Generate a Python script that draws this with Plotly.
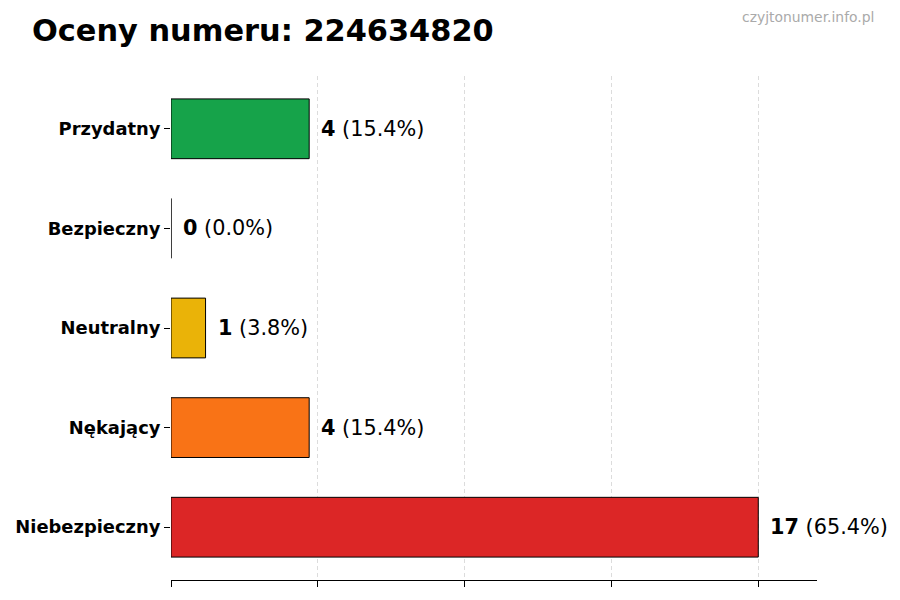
import plotly.graph_objects as go

# ratings for the number, top to bottom as drawn
categories = ['Przydatny', 'Bezpieczny', 'Neutralny', 'Nękający', 'Niebezpieczny']
counts = [4, 0, 1, 4, 17]
colors = ['#16a34a', '#3b82f6', '#eab308', '#f97316', '#dc2626']
phone = '224634820'

total = sum(counts)
max_count = max(counts)

fig = go.Figure(go.Bar(
    x=counts,
    y=categories,
    orientation='h',
    width=0.6,
    marker=dict(color=colors, line=dict(color='black', width=1)),
    hoverinfo='skip',
))

# value labels to the right of each bar
for cat, n in zip(categories, counts):
    pct = n / total * 100 if total else 0
    fig.add_annotation(
        x=n, y=cat, xref='x', yref='y',
        text='<b>%d</b> (%.1f%%)' % (n, pct),
        showarrow=False, xanchor='left', yanchor='middle', xshift=10,
        font=dict(size=20.8, color='black', family='DejaVu Sans'),
    )

# the page puts the figure 8px in from the top-left corner
fig.add_annotation(
    text='czyjtonumer.info.pl', xref='paper', yref='paper',
    x=(876 - 171) / 646, y=1 + (76 - 17) / 504,
    xanchor='right', yanchor='middle', showarrow=False,
    font=dict(size=13.9, color='#aaaaaa', family='DejaVu Sans'),
)

ticks = [max_count * i / 4 for i in range(5)]

fig.update_layout(
    width=900, height=600,
    margin=dict(l=163, r=91, t=68, b=28),
    paper_bgcolor='white', plot_bgcolor='white',
    showlegend=False,
    font=dict(family='DejaVu Sans', color='black'),
    title=dict(
        text='<b>Oceny numeru: %s</b>' % phone,
        xref='container', yref='container',
        x=24 / 900, y=1 - 22 / 600, xanchor='left', yanchor='middle',
        font=dict(size=30.4, color='black', family='DejaVu Sans'),
    ),
    xaxis=dict(
        range=[0, max_count * 1.1],
        tickvals=ticks, showticklabels=False,
        ticks='outside', ticklen=6, tickcolor='black',
        showline=True, linecolor='black', linewidth=1,
        showgrid=True, gridcolor='#dcdcdc', griddash='4px,3px', gridwidth=0.8,
        zeroline=False, fixedrange=True, automargin=False,
    ),
    yaxis=dict(
        range=[len(categories) - 0.47, -0.53],
        categoryorder='array', categoryarray=categories,
        tickvals=categories, ticktext=['<b>%s</b>' % c for c in categories],
        tickfont=dict(size=17.9, color='black'),
        ticks='outside', ticklen=6, tickcolor='black',
        showline=False, showgrid=False, zeroline=False, fixedrange=True,
        automargin=False,
    ),
)

fig.write_html('out.html')
